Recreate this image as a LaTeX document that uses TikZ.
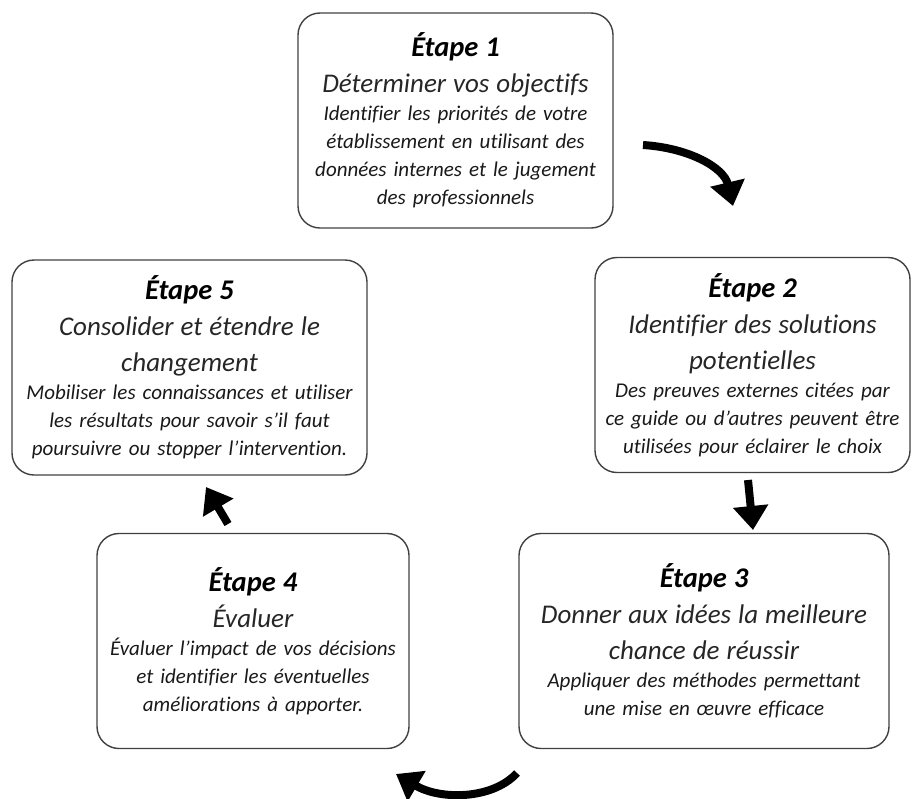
\documentclass[tikz,border=0pt]{standalone}
\usepackage{fontspec}
\setmainfont{Carlito}[Ligatures=NoCommon]
\usetikzlibrary{arrows.meta}

\newcommand\etp{\fontsize{28.5}{36}\selectfont\bfseries\color{black}}
\newcommand\ttl{\fontsize{27}{36}\selectfont\mdseries\color{black!85}}
\newcommand\bdy{\fontsize{21}{28}\selectfont\mdseries\color{black!90}}

\tikzset{
  etape/.style={draw=black!75, line width=1.4pt, rounded corners=22pt,
    align=center, inner sep=0pt, minimum height=215pt,
    font=\itshape\fontsize{21}{28}\selectfont},
  bigarrow/.style={line width=8pt, -{Triangle[width=34pt,length=24pt]}}
}

\begin{document}
\begin{tikzpicture}[x=1pt,y=1pt]
  \useasboundingbox (0,0) rectangle (912,-798);

  \node[etape, minimum width=315pt, text width=311pt] (e1) at (455.5,-120.5)
    {\etp Étape 1\\ \ttl Déterminer vos objectifs\\
     \bdy Identifier les priorités de votre\\ établissement en utilisant des\\
     données internes et le jugement\\ des professionnels};
  \node[etape, minimum width=315pt, text width=311pt] (e2) at (752.5,-365)
    {\etp Étape 2\\ \ttl Identifier des solutions\\ potentielles\\
     \bdy Des preuves externes citées par\\ ce guide ou d’autres peuvent être\\
     utilisées pour éclairer le choix};
  \node[etape, minimum width=370pt, text width=366pt] (e3) at (704,-641)
    {\etp Étape 3\\ \ttl Donner aux idées la meilleure\\ chance de réussir\\
     \bdy Appliquer des méthodes permettant\\ une mise en œuvre efficace};
  \node[etape, minimum width=312pt, text width=308pt] (e4) at (253,-641)
    {\etp Étape 4\\ \ttl Évaluer\\
     \bdy Évaluer l’impact de vos décisions\\ et identifier les éventuelles\\
     améliorations à apporter.};
  \node[etape, minimum width=355pt, text width=351pt] (e5) at (189.5,-367.5)
    {\etp Étape 5\\ \ttl Consolider et étendre le\\ changement\\
     \bdy Mobiliser les connaissances et utiliser\\ les résultats pour savoir s’il faut\\
     poursuivre ou stopper l’intervention.};

  % fleches du cycle
  \coordinate (a1) at (643,-145);
  \coordinate (b1) at (733,-206);
  \coordinate (a2) at (748,-480);
  \coordinate (b2) at (753,-530);
  \coordinate (a3) at (517,-773);
  \coordinate (b3) at (396,-774);
  \coordinate (a4) at (228,-524);
  \coordinate (b4) at (206,-487);

  \draw[bigarrow] (a1) .. controls (690,-148) and (724,-168) .. (b1);
  \draw[bigarrow] (a2) -- (b2);
  \draw[bigarrow] (a3) .. controls (492,-800) and (440,-800) .. (b3);
  \draw[bigarrow] (a4) -- (b4);
\end{tikzpicture}
\end{document}
